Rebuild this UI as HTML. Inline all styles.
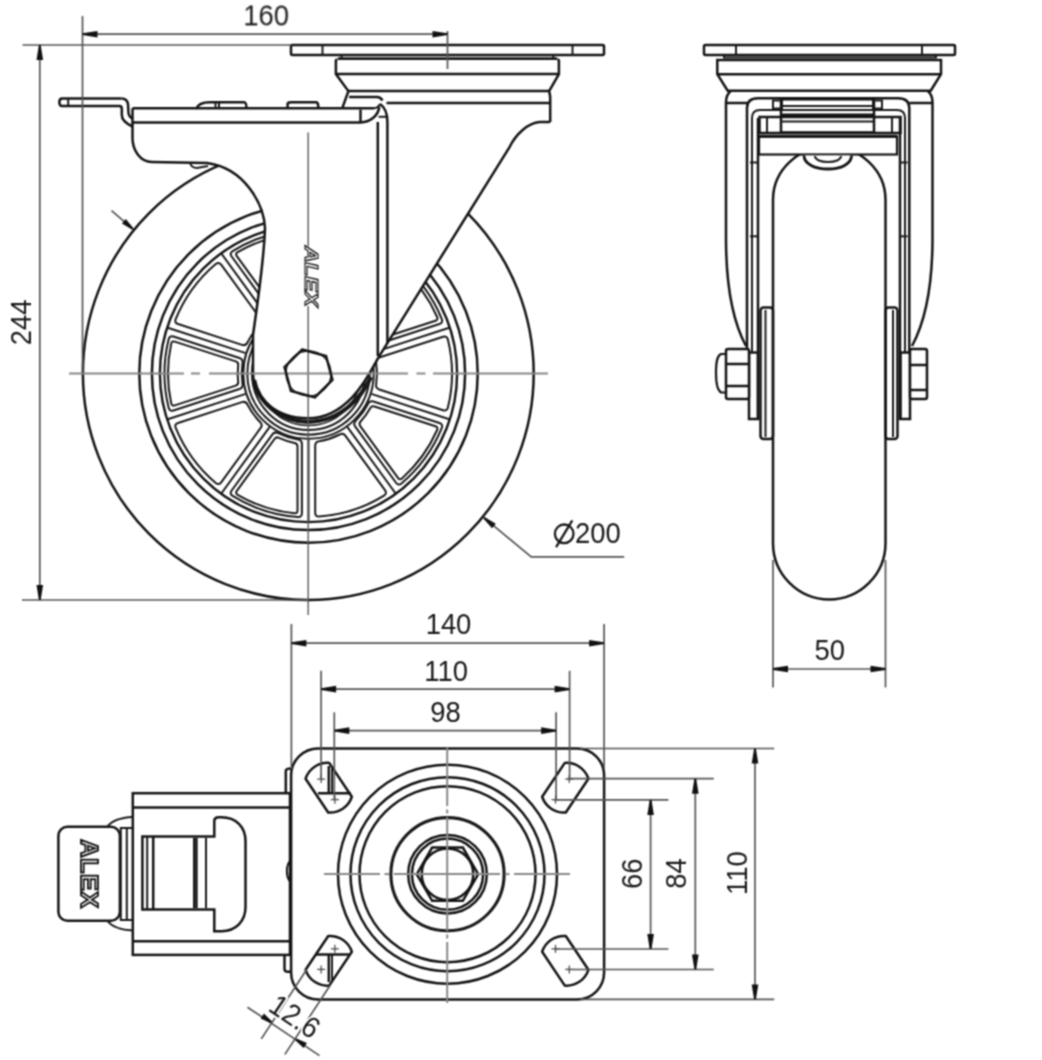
<!DOCTYPE html>
<html><head><meta charset="utf-8"><style>
html,body{margin:0;padding:0;background:#fff;}
body{width:1042px;height:1060px;overflow:hidden;position:relative;}
#lb{position:absolute;left:0;top:0;width:2px;height:1060px;background:#e8e8e8;}
svg{position:absolute;left:0;top:0;will-change:transform;}
text{font-family:"Liberation Sans",sans-serif;fill:#1a1a1a;}
</style></head><body><div id="lb"></div>
<svg width="1042" height="1060" viewBox="0 0 1042 1060" stroke-linecap="butt">
<defs><filter id="bl" x="0" y="0" width="1042" height="1060" filterUnits="userSpaceOnUse" color-interpolation-filters="sRGB"><feConvolveMatrix order="3" kernelMatrix="1 2 1 2 4 2 1 2 1" divisor="16" edgeMode="duplicate" preserveAlpha="true"/></filter></defs>
<g filter="url(#bl)">
<rect x="0" y="0" width="1042" height="1060" fill="#fff"/>
<ellipse cx="308.3" cy="373.5" rx="225.4" ry="226.5" stroke="#141414" stroke-width="2.5" fill="none"/>
<circle cx="308.5" cy="373.5" r="169.2" stroke="#141414" stroke-width="2.5" fill="none" />
<circle cx="308.5" cy="373.5" r="156.6" stroke="#141414" stroke-width="2.5" fill="none" />
<circle cx="308.5" cy="373.5" r="148.6" stroke="#141414" stroke-width="2.4" fill="none" />
<path d="M379.21,357.57 L443.09,336.81 Q446.9,335.58 447.9,339.45 A143.5,143.5 0 0 1 447.9,407.55 Q446.9,411.42 443.09,410.19 L379.21,389.43 Q375.41,388.19 376.15,384.26 A68.5,68.5 0 0 0 376.15,362.74 Q375.41,358.81 379.21,357.57 Z" stroke="#1a1a1a" stroke-width="2.0" fill="none" />
<line x1="371.27" y1="393.9" x2="449.26" y2="419.23" stroke="#1a1a1a" stroke-width="2.0" fill="none" />
<path d="M374.47,406.5 L435.46,426.32 Q438.31,427.25 437.14,430 A140.5,140.5 0 0 1 401.99,478.38 Q399.73,480.35 397.97,477.93 L360.27,426.04 Q358.51,423.62 360.59,421.45 A70.8,70.8 0 0 0 370.2,408.22 Q371.62,405.57 374.47,406.5 Z" stroke="#1a1a1a" stroke-width="2.0" fill="none" />
<path d="M373.48,401.55 L439.46,422.99 Q443.27,424.23 441.81,427.95 A144,144 0 0 1 401.48,483.46 Q398.39,486 396.04,482.76 L355.26,426.63 Q352.91,423.4 355.82,420.65 A66.8,66.8 0 0 0 367.97,403.93 Q369.68,400.32 373.48,401.55 Z" stroke="#1a1a1a" stroke-width="2.0" fill="none" />
<line x1="347.29" y1="426.9" x2="395.49" y2="493.23" stroke="#1a1a1a" stroke-width="2.0" fill="none" />
<path d="M345.5,435.83 L384.98,490.17 Q387.33,493.41 383.96,495.56 A143.5,143.5 0 0 1 319.19,516.6 Q315.2,516.84 315.2,512.84 L315.2,445.67 Q315.2,441.67 319.17,441.16 A68.5,68.5 0 0 0 339.64,434.51 Q343.15,432.59 345.5,435.83 Z" stroke="#1a1a1a" stroke-width="2.0" fill="none" />
<line x1="308.5" y1="439.5" x2="308.5" y2="521.5" stroke="#1a1a1a" stroke-width="2.0" fill="none" />
<path d="M297.5,446.44 L297.5,510.57 Q297.5,513.57 294.51,513.3 A140.5,140.5 0 0 1 237.64,494.82 Q235.07,493.28 236.83,490.86 L274.53,438.98 Q276.29,436.55 278.99,437.86 A70.8,70.8 0 0 0 294.55,442.91 Q297.5,443.44 297.5,446.44 Z" stroke="#1a1a1a" stroke-width="2.0" fill="none" />
<path d="M301.9,443.97 L301.9,513.35 Q301.9,517.35 297.91,517.11 A144,144 0 0 1 232.66,495.91 Q229.29,493.76 231.64,490.52 L272.42,434.39 Q274.77,431.16 278.28,433.07 A66.8,66.8 0 0 0 297.93,439.46 Q301.9,439.97 301.9,443.97 Z" stroke="#1a1a1a" stroke-width="2.0" fill="none" />
<line x1="269.71" y1="426.9" x2="221.51" y2="493.23" stroke="#1a1a1a" stroke-width="2.0" fill="none" />
<path d="M260.66,427.95 L221.18,482.29 Q218.82,485.53 215.74,482.99 A143.5,143.5 0 0 1 175.71,427.89 Q174.24,424.17 178.05,422.93 L241.93,402.17 Q245.74,400.94 247.44,404.55 A68.5,68.5 0 0 0 260.1,421.97 Q263.01,424.71 260.66,427.95 Z" stroke="#1a1a1a" stroke-width="2.0" fill="none" />
<line x1="245.73" y1="393.9" x2="167.74" y2="419.23" stroke="#1a1a1a" stroke-width="2.0" fill="none" />
<path d="M235.73,385.58 L174.74,405.39 Q171.89,406.32 171.22,403.4 A140.5,140.5 0 0 1 171.22,343.6 Q171.89,340.68 174.74,341.61 L235.73,361.42 Q238.58,362.35 238.17,365.32 A70.8,70.8 0 0 0 238.17,381.68 Q238.58,384.65 235.73,385.58 Z" stroke="#1a1a1a" stroke-width="2.0" fill="none" />
<path d="M239.44,389 L173.46,410.44 Q169.65,411.67 168.65,407.8 A144,144 0 0 1 168.65,339.2 Q169.65,335.33 173.46,336.56 L239.44,358 Q243.24,359.24 242.5,363.17 A66.8,66.8 0 0 0 242.5,383.83 Q243.24,387.76 239.44,389 Z" stroke="#1a1a1a" stroke-width="2.0" fill="none" />
<line x1="245.73" y1="353.1" x2="167.74" y2="327.77" stroke="#1a1a1a" stroke-width="2.0" fill="none" />
<path d="M241.93,344.83 L178.05,324.07 Q174.24,322.83 175.71,319.11 A143.5,143.5 0 0 1 215.74,264.01 Q218.82,261.47 221.18,264.71 L260.66,319.05 Q263.01,322.29 260.1,325.03 A68.5,68.5 0 0 0 247.44,342.45 Q245.74,346.06 241.93,344.83 Z" stroke="#1a1a1a" stroke-width="2.0" fill="none" />
<line x1="269.71" y1="320.1" x2="221.51" y2="253.77" stroke="#1a1a1a" stroke-width="2.0" fill="none" />
<path d="M274.53,308.02 L236.83,256.14 Q235.07,253.72 237.64,252.18 A140.5,140.5 0 0 1 294.51,233.7 Q297.5,233.43 297.5,236.43 L297.5,300.56 Q297.5,303.56 294.55,304.09 A70.8,70.8 0 0 0 278.99,309.14 Q276.29,310.45 274.53,308.02 Z" stroke="#1a1a1a" stroke-width="2.0" fill="none" />
<path d="M272.42,312.61 L231.64,256.48 Q229.29,253.24 232.66,251.09 A144,144 0 0 1 297.91,229.89 Q301.9,229.65 301.9,233.65 L301.9,303.03 Q301.9,307.03 297.93,307.54 A66.8,66.8 0 0 0 278.28,313.93 Q274.77,315.84 272.42,312.61 Z" stroke="#1a1a1a" stroke-width="2.0" fill="none" />
<line x1="308.5" y1="307.5" x2="308.5" y2="225.5" stroke="#1a1a1a" stroke-width="2.0" fill="none" />
<path d="M315.2,301.33 L315.2,234.16 Q315.2,230.16 319.19,230.4 A143.5,143.5 0 0 1 383.96,251.44 Q387.33,253.59 384.98,256.83 L345.5,311.17 Q343.15,314.41 339.64,312.49 A68.5,68.5 0 0 0 319.17,305.84 Q315.2,305.33 315.2,301.33 Z" stroke="#1a1a1a" stroke-width="2.0" fill="none" />
<line x1="347.29" y1="320.1" x2="395.49" y2="253.77" stroke="#1a1a1a" stroke-width="2.0" fill="none" />
<path d="M360.27,320.96 L397.97,269.07 Q399.73,266.65 401.99,268.62 A140.5,140.5 0 0 1 437.14,317 Q438.31,319.75 435.46,320.68 L374.47,340.5 Q371.62,341.43 370.2,338.78 A70.8,70.8 0 0 0 360.59,325.55 Q358.51,323.38 360.27,320.96 Z" stroke="#1a1a1a" stroke-width="2.0" fill="none" />
<path d="M355.26,320.37 L396.04,264.24 Q398.39,261 401.48,263.54 A144,144 0 0 1 441.81,319.05 Q443.27,322.77 439.46,324.01 L373.48,345.45 Q369.68,346.68 367.97,343.07 A66.8,66.8 0 0 0 355.82,326.35 Q352.91,323.6 355.26,320.37 Z" stroke="#1a1a1a" stroke-width="2.0" fill="none" />
<line x1="371.27" y1="353.1" x2="449.26" y2="327.77" stroke="#1a1a1a" stroke-width="2.0" fill="none" />
<circle cx="308.5" cy="373.5" r="65.2" stroke="#1a1a1a" stroke-width="2.0" fill="none" />
<circle cx="308.5" cy="373.5" r="61.2" stroke="#1a1a1a" stroke-width="2.0" fill="none" />
<circle cx="308.5" cy="373.5" r="56.5" stroke="#1a1a1a" stroke-width="2.0" fill="none" />
<circle cx="308.5" cy="373.5" r="52" stroke="#141414" stroke-width="1.4" fill="none" />
<path d="M132.5,108.3 L378,108.3 L386,104 L550.2,103 L550.2,122.1 L539.6,122.1 C528,122 516,134 509.7,146.8 L378.5,357.3 C370,372 350,418 308,418.3 C276,418.3 253,398 253,373 L253,335 C258,300 264,260 265,228 C264,205 245,168 207,163 L152,162 C140,160 132.5,150 132.5,138 Z" stroke="none" fill="#fff" />
<path d="M254,380 C258,402 280,421.6 308,421.8 C342,421.8 362,396 371,377" stroke="#1a1a1a" stroke-width="4.2" fill="none" />
<path d="M253,335 L253,373 C253,398 276,418.3 308,418.3 C350,418 370,372 378.5,357.3" stroke="#141414" stroke-width="2.5" fill="none" />
<path d="M132.5,122 L132.5,138 C132.5,150 140,162 152,162 L207,163 C245,168 264,205 265,228 C264,260 258,300 253,335" stroke="#141414" stroke-width="2.5" fill="none" />
<path d="M550.2,122.1 L539.6,122.1 C528,123 516,134 509.7,146.8 L378.5,357.3" stroke="#141414" stroke-width="2.5" fill="none" />
<line x1="377.8" y1="122" x2="377.8" y2="356" stroke="#141414" stroke-width="2.5" fill="none" />
<path d="M380,104 C386,108 387.4,114 387.4,122 L387.4,343" stroke="#141414" stroke-width="2.5" fill="none" />
<path d="M132.5,108.3 L374,108.3" stroke="#141414" stroke-width="2.5" fill="none" />
<line x1="200" y1="107.6" x2="374" y2="107.6" stroke="#1a1a1a" stroke-width="1.4" />
<path d="M132.5,122.4 L360.5,122.4 C370,122.4 378,116 379.3,107" stroke="#141414" stroke-width="2.5" fill="none" />
<line x1="132.5" y1="108.3" x2="132.5" y2="122.4" stroke="#141414" stroke-width="2.5" fill="none" />
<line x1="360.5" y1="109.6" x2="360.5" y2="122.4" stroke="#141414" stroke-width="2.5" fill="none" />
<path d="M374,108.3 C377,108 379,106 380,104" stroke="#1a1a1a" stroke-width="2.0" fill="none" />
<line x1="378.6" y1="116.8" x2="386.9" y2="116.8" stroke="#1a1a1a" stroke-width="2.0" fill="none" />
<path d="M196,109 C198,104 203,102.3 210,102.3 L244,102.3 C246,102.3 246.5,104 246.5,109" stroke="#141414" stroke-width="2.5" fill="none" />
<line x1="215.5" y1="102.5" x2="215.5" y2="109" stroke="#1a1a1a" stroke-width="2.0" fill="none" />
<line x1="219" y1="102.5" x2="219" y2="109" stroke="#1a1a1a" stroke-width="2.0" fill="none" />
<path d="M287.6,109 L287.6,104 C287.6,102.5 289,102.3 291,102.3 L316,102.3 C318,102.3 318.3,104 318.3,109" stroke="#141414" stroke-width="2.5" fill="none" />
<path d="M121.5,98.4 L62,98.4 C58.5,98.4 58.5,106.1 62,106.1 L119.5,106.1 C121,106.1 121.8,107 121.8,109 L121.8,115 C121.8,119 126,123.5 132.5,126.5" stroke="#141414" stroke-width="2.5" fill="none" />
<path d="M121.5,98.4 C125.5,98.4 127.5,100.5 128,104 L128.5,113 C128.8,116 130,117.5 132.5,118.5" stroke="#141414" stroke-width="2.5" fill="none" />
<line x1="68.2" y1="98.8" x2="68.2" y2="105.8" stroke="#1a1a1a" stroke-width="2.0" fill="none" />
<path d="M190,163 C191,166 193,168 197,168 L208,166" stroke="#1a1a1a" stroke-width="2.0" fill="none" />
<rect x="291" y="45" width="313" height="10" rx="1.5" stroke="#141414" stroke-width="2.5" fill="none"/>
<line x1="322.5" y1="45" x2="322.5" y2="55" stroke="#1a1a1a" stroke-width="2.0" fill="none" />
<line x1="572.5" y1="45" x2="572.5" y2="55" stroke="#1a1a1a" stroke-width="2.0" fill="none" />
<line x1="341.6" y1="55" x2="341.6" y2="58.5" stroke="#1a1a1a" stroke-width="2.0" fill="none" />
<line x1="553.2" y1="55" x2="553.2" y2="58.5" stroke="#1a1a1a" stroke-width="2.0" fill="none" />
<line x1="338" y1="58.6" x2="557" y2="58.6" stroke="#1a1a1a" stroke-width="2.6" />
<path d="M337.5,59.4 Q335.9,59.4 335.9,61 L335.9,74.1 L348.4,91.1 L342.3,108.1" stroke="#141414" stroke-width="2.5" fill="none" />
<path d="M557.3,59.4 Q558.9,59.4 558.9,61 L558.9,74.1 L549.1,91.2 C549.6,93 550.2,95 550.2,98.3 L550.2,122.1" stroke="#141414" stroke-width="2.5" fill="none" />
<line x1="335.9" y1="74.1" x2="558.9" y2="74.1" stroke="#141414" stroke-width="2.5" fill="none" />
<line x1="348.4" y1="91.1" x2="549.1" y2="91.1" stroke="#141414" stroke-width="2.5" fill="none" />
<line x1="386.5" y1="102.9" x2="550.2" y2="102.9" stroke="#141414" stroke-width="2.5" fill="none" />
<path d="M349.1,97.1 L377,97.1 C379,97.1 381,98 382.5,100.5" stroke="#141414" stroke-width="2.5" fill="none" />
<line x1="308.2" y1="132.4" x2="308.2" y2="246.5" stroke="#5a5a5a" stroke-width="1.4" fill="none" />
<line x1="308.2" y1="306" x2="308.2" y2="615" stroke="#5a5a5a" stroke-width="1.4" fill="none" />
<line x1="69" y1="373.5" x2="184" y2="373.5" stroke="#888" stroke-width="2" fill="none" />
<line x1="191" y1="373.5" x2="200" y2="373.5" stroke="#888" stroke-width="2" fill="none" />
<line x1="209" y1="373.5" x2="408" y2="373.5" stroke="#888" stroke-width="2" fill="none" />
<line x1="416.5" y1="373.5" x2="425.5" y2="373.5" stroke="#888" stroke-width="2" fill="none" />
<line x1="433" y1="373.5" x2="548" y2="373.5" stroke="#888" stroke-width="2" fill="none" />
<path d="M302.08,349.55 L326.04,355.96 L332.45,379.92 L314.92,397.45 L290.96,391.04 L284.55,367.08 Z" stroke="#141414" stroke-width="2.5" fill="none" />
<circle cx="308.5" cy="373.5" r="22.5" stroke="#141414" stroke-width="1.3" fill="none" />
<text x="0" y="0" font-size="19" font-weight="bold" transform="translate(304.5,276.3) rotate(90) scale(1.2,1)" text-anchor="middle" font-style="italic" style="fill:#fff;stroke:#1a1a1a;stroke-width:1.2px">ALEX</text>
<line x1="82.5" y1="16" x2="82.5" y2="372" stroke="#555" stroke-width="1.7" fill="none" />
<line x1="447.5" y1="31" x2="447.5" y2="69" stroke="#555" stroke-width="1.7" fill="none" />
<line x1="82.5" y1="34.2" x2="447.5" y2="34.2" stroke="#555" stroke-width="1.7" fill="none" />
<path d="M82.5,33.3 L97.5,30.9 L97.5,37.5 L82.5,35.1 Z" fill="#111" stroke="none"/>
<path d="M447.5,35.1 L432.5,37.5 L432.5,30.9 L447.5,33.3 Z" fill="#111" stroke="none"/>
<text x="0" y="0" font-size="29.5" text-anchor="middle" transform="translate(266.1 25.4) rotate(0) scale(0.93 1)" >160</text>
<line x1="22.5" y1="45" x2="291" y2="45" stroke="#555" stroke-width="1.7" fill="none" />
<line x1="22" y1="600" x2="308" y2="600" stroke="#555" stroke-width="1.7" fill="none" />
<line x1="39.8" y1="45" x2="39.8" y2="600" stroke="#555" stroke-width="1.7" fill="none" />
<path d="M40.7,45 L43.1,60 L36.5,60 L38.9,45 Z" fill="#111" stroke="none"/>
<path d="M38.9,600 L36.5,585 L43.1,585 L40.7,600 Z" fill="#111" stroke="none"/>
<text x="0" y="0" font-size="29.5" text-anchor="middle" transform="translate(31.2 322.3) rotate(-90) scale(0.93 1)" >244</text>
<line x1="111.5" y1="210.7" x2="133" y2="229.1" stroke="#555" stroke-width="1.7" fill="none" />
<path d="M132.41,229.78 L121.93,223.58 L125.83,219.02 L133.59,228.42 Z" fill="#111" stroke="none"/>
<path d="M483.9,517.7 L531.2,556.9 L624.2,556.9" stroke="#555" stroke-width="1.7" fill="none" />
<path d="M484.47,517.01 L495.82,523.69 L492,528.31 L483.33,518.39 Z" fill="#111" stroke="none"/>
<text x="0" y="0" font-size="29.5" text-anchor="middle" transform="translate(597.9 543.3) rotate(0) scale(0.93 1)" >200</text>
<circle cx="564.2" cy="533.8" r="9.3" stroke="#1a1a1a" stroke-width="2.3" fill="none" />
<line x1="556.1" y1="547.2" x2="572.3" y2="520.4" stroke="#1a1a1a" stroke-width="2.3" />
<rect x="704" y="45" width="251" height="10" rx="1.5" stroke="#141414" stroke-width="2.5" fill="none"/>
<line x1="736" y1="45" x2="736" y2="55" stroke="#1a1a1a" stroke-width="2.0" fill="none" />
<line x1="922" y1="45" x2="922" y2="55" stroke="#1a1a1a" stroke-width="2.0" fill="none" />
<path d="M724,55 L724,57.5 L936,57.5 L936,55" stroke="#1a1a1a" stroke-width="2.0" fill="none" />
<path d="M717.3,60 L941,60 L941,74.2 L930.7,90.7 L727.7,90.7 L717.3,74.2 Z" stroke="#141414" stroke-width="2.5" fill="none" />
<line x1="717.3" y1="74.2" x2="941" y2="74.2" stroke="#141414" stroke-width="2.5" fill="none" />
<path d="M730.7,91 C727,94 726,98 726,102.2 L726,240 C726.2,290 733,322 746,346" stroke="#141414" stroke-width="2.5" fill="none" />
<path d="M927.8,91 C931.5,94 932.5,98 932.5,102.2 L932.5,240 C932.3,290 925,322 912,346" stroke="#141414" stroke-width="2.5" fill="none" />
<line x1="726" y1="103" x2="747" y2="103" stroke="#141414" stroke-width="2.5" fill="none" />
<line x1="909.3" y1="103" x2="932.5" y2="103" stroke="#141414" stroke-width="2.5" fill="none" />
<path d="M747,352 L747,108 C747,101 751,98.2 758,98.2 L898,98.2 C905,98.2 909.3,101 909.3,108 L909.3,352" stroke="#141414" stroke-width="2.5" fill="none" />
<rect x="749" y="352.5" width="9" height="66.5" rx="0" stroke="#141414" stroke-width="2.5" fill="none"/>
<rect x="900.5" y="352.5" width="9.5" height="66.5" rx="0" stroke="#141414" stroke-width="2.5" fill="none"/>
<line x1="758" y1="118" x2="758" y2="420" stroke="#141414" stroke-width="2.5" fill="none" />
<line x1="900" y1="118" x2="900" y2="420" stroke="#141414" stroke-width="2.5" fill="none" />
<path d="M752,118 C752,112 755,110 760,110 L897,110 C902,110 905,112 905,118 L905,352" stroke="#1a1a1a" stroke-width="2.0" fill="none" />
<line x1="752" y1="118" x2="752" y2="352" stroke="#1a1a1a" stroke-width="2.0" fill="none" />
<rect x="781" y="99.3" width="93" height="33.2" rx="0" stroke="#141414" stroke-width="2.5" fill="none"/>
<line x1="781" y1="106" x2="874" y2="106" stroke="#1a1a1a" stroke-width="2.0" fill="none" />
<line x1="781" y1="114.8" x2="874" y2="114.8" stroke="#141414" stroke-width="2.5" fill="none" />
<line x1="781" y1="121.4" x2="874" y2="121.4" stroke="#1a1a1a" stroke-width="2.0" fill="none" />
<rect x="773" y="100.5" width="9" height="8" rx="0" stroke="#1a1a1a" stroke-width="2.0" fill="none"/>
<rect x="873" y="100.5" width="9" height="8" rx="0" stroke="#1a1a1a" stroke-width="2.0" fill="none"/>
<rect x="759.5" y="117" width="141" height="16" rx="0" stroke="#141414" stroke-width="2.5" fill="none"/>
<line x1="767" y1="117" x2="767" y2="133" stroke="#1a1a1a" stroke-width="2.0" fill="none" />
<line x1="892" y1="117" x2="892" y2="133" stroke="#1a1a1a" stroke-width="2.0" fill="none" />
<path d="M773,543 L773,199.8 A56.25,53.2 0 0 1 885.5,199.8 L885.5,543 A56.25,56.5 0 0 1 773,543 Z" stroke="#141414" stroke-width="2.5" fill="none" />
<rect x="759" y="136.5" width="138" height="18" rx="0" stroke="#141414" stroke-width="2.2" fill="#fff"/>
<line x1="759" y1="136.2" x2="897" y2="136.2" stroke="#141414" stroke-width="3" />
<path d="M804,155.5 C804,164 815,169 828,169 C841,169 851.5,164 851.5,155.5" stroke="#141414" stroke-width="2.8" fill="#fff" />
<path d="M815,156 C815,160 821,162 828,162 C835,162 841,160 841,156" stroke="#1a1a1a" stroke-width="2.0" fill="none" />
<line x1="750" y1="162.5" x2="758" y2="162.5" stroke="#1a1a1a" stroke-width="2.0" fill="none" />
<line x1="900" y1="162.5" x2="907.5" y2="162.5" stroke="#1a1a1a" stroke-width="2.0" fill="none" />
<line x1="750" y1="236.3" x2="758" y2="236.3" stroke="#1a1a1a" stroke-width="2.0" fill="none" />
<line x1="900" y1="236.3" x2="907.5" y2="236.3" stroke="#1a1a1a" stroke-width="2.0" fill="none" />
<rect x="760.5" y="307.5" width="12.5" height="131.5" rx="3" stroke="#141414" stroke-width="2.5" fill="none"/>
<line x1="765.5" y1="310" x2="765.5" y2="437" stroke="#1a1a1a" stroke-width="2.0" fill="none" />
<rect x="885.5" y="307.5" width="12" height="131.5" rx="3" stroke="#141414" stroke-width="2.5" fill="none"/>
<line x1="893" y1="310" x2="893" y2="437" stroke="#1a1a1a" stroke-width="2.0" fill="none" />
<rect x="726" y="349" width="23" height="50" rx="2" stroke="#141414" stroke-width="2.5" fill="#fff"/>
<line x1="726" y1="364" x2="749" y2="364" stroke="#141414" stroke-width="2.5" fill="none" />
<line x1="726" y1="386" x2="749" y2="386" stroke="#141414" stroke-width="2.5" fill="none" />
<path d="M726,354 L721,354 C717,356 716,362 716,373 C716,384 717,390 721,392.5 L726,392.5" stroke="#141414" stroke-width="2.2" fill="none" />
<rect x="910" y="349" width="17" height="50" rx="2" stroke="#141414" stroke-width="2.5" fill="#fff"/>
<line x1="910" y1="365" x2="927" y2="365" stroke="#141414" stroke-width="2.5" fill="none" />
<line x1="910" y1="390" x2="927" y2="390" stroke="#141414" stroke-width="2.5" fill="none" />
<line x1="773" y1="560" x2="773" y2="687.5" stroke="#555" stroke-width="1.7" fill="none" />
<line x1="885.5" y1="560" x2="885.5" y2="687.5" stroke="#555" stroke-width="1.7" fill="none" />
<line x1="773" y1="669" x2="885.5" y2="669" stroke="#555" stroke-width="1.7" fill="none" />
<path d="M773,668.1 L788,665.7 L788,672.3 L773,669.9 Z" fill="#111" stroke="none"/>
<path d="M885.5,669.9 L870.5,672.3 L870.5,665.7 L885.5,668.1 Z" fill="#111" stroke="none"/>
<text x="0" y="0" font-size="29.5" text-anchor="middle" transform="translate(829.75 659.8) rotate(0) scale(0.93 1)" >50</text>
<rect x="132.8" y="793.2" width="157.2" height="161.7" rx="0" stroke="#141414" stroke-width="2.5" fill="none"/>
<line x1="132.8" y1="807.6" x2="290" y2="807.6" stroke="#141414" stroke-width="2.5" fill="none" />
<line x1="132.8" y1="941.2" x2="290" y2="941.2" stroke="#141414" stroke-width="2.5" fill="none" />
<path d="M285.8,793 L285.8,771 C285.8,769.5 287,768.6 291,768.6" stroke="#141414" stroke-width="2.5" fill="none" />
<rect x="58.4" y="826.8" width="61.5" height="94" rx="9" stroke="#141414" stroke-width="2.5" fill="none"/>
<line x1="120.8" y1="828" x2="120.8" y2="920" stroke="#1a1a1a" stroke-width="2.0" fill="none" />
<line x1="126.8" y1="828" x2="126.8" y2="920" stroke="#1a1a1a" stroke-width="2.0" fill="none" />
<line x1="119.9" y1="828" x2="132.8" y2="828" stroke="#1a1a1a" stroke-width="2.0" fill="none" />
<line x1="119.9" y1="920" x2="132.8" y2="920" stroke="#1a1a1a" stroke-width="2.0" fill="none" />
<path d="M107,827 C112,820 122,817.5 132.8,817" stroke="#1a1a1a" stroke-width="2.0" fill="none" />
<path d="M107,920.5 C112,927 122,930 132.8,930.5" stroke="#1a1a1a" stroke-width="2.0" fill="none" />
<text x="0" y="0" font-size="24" font-weight="bold" transform="translate(80.5,874) rotate(90) scale(1.05,1)" text-anchor="middle" style="fill:#fff;stroke:#1a1a1a;stroke-width:1.9px" letter-spacing="0.5">ALEX</text>
<path d="M142.4,836.4 L214.3,836.4 L214.3,821 C214.3,818.5 216,817.2 219,817.2 L221.5,817.2 C236,817.2 245.5,827 245.5,841 L245.5,907 C245.5,921 236,931.2 221.5,931.2 L214.3,931.2 L214.3,909.6 L142.4,909.6 Z" stroke="#141414" stroke-width="2.5" fill="none" />
<line x1="147.2" y1="836.4" x2="147.2" y2="909.6" stroke="#1a1a1a" stroke-width="2.0" fill="none" />
<line x1="153.2" y1="836.4" x2="153.2" y2="909.6" stroke="#141414" stroke-width="2.5" fill="none" />
<line x1="194" y1="838" x2="194" y2="908" stroke="#1a1a1a" stroke-width="2.0" fill="none" />
<line x1="196.4" y1="838" x2="196.4" y2="908" stroke="#141414" stroke-width="2.5" fill="none" />
<line x1="206" y1="838" x2="206" y2="908" stroke="#1a1a1a" stroke-width="2.0" fill="none" />
<path d="M284.5,955 L284.5,969 C284.5,971 286,971.8 288,971.8 L291,971.8" stroke="#141414" stroke-width="2.5" fill="none" />
<path d="M289.5,861.5 C286,866 286,876 289.5,881" stroke="#141414" stroke-width="2" fill="none" />
<rect x="291.1" y="748.5" width="313" height="251" rx="27" stroke="#141414" stroke-width="2.5" fill="#fff"/>
<circle cx="447.5" cy="874.2" r="109.5" stroke="#141414" stroke-width="2.5" fill="none" />
<circle cx="447.5" cy="874.2" r="97" stroke="#141414" stroke-width="2.5" fill="none" />
<circle cx="447.5" cy="874.2" r="88" stroke="#141414" stroke-width="2.5" fill="none" />
<circle cx="447.5" cy="874.2" r="56.6" stroke="#1a1a1a" stroke-width="3.1" fill="none" />
<circle cx="447.5" cy="874.2" r="39.3" stroke="#141414" stroke-width="2.5" fill="none" />
<circle cx="447.5" cy="874.2" r="35.6" stroke="#141414" stroke-width="2.5" fill="none" />
<path d="M478.2,874.2 L462.85,900.79 L432.15,900.79 L416.8,874.2 L432.15,847.61 L462.85,847.61 Z" stroke="#141414" stroke-width="2.5" fill="none" />
<circle cx="447.5" cy="874.2" r="25.8" stroke="#141414" stroke-width="2.5" fill="none" />
<path d="M329.19,762.89 A23,23 0 0 0 305.59,778.69 L328.23,812.53 A23,23 0 0 0 351.84,796.74 Z" stroke="#141414" stroke-width="2.5" fill="#fff" stroke-linejoin="round"/>
<path d="M588.41,778.69 A23,23 0 0 0 564.81,762.89 L542.16,796.74 A23,23 0 0 0 565.77,812.53 Z" stroke="#141414" stroke-width="2.5" fill="#fff" stroke-linejoin="round"/>
<path d="M305.59,969.81 A23,23 0 0 0 329.19,985.61 L351.84,951.76 A23,23 0 0 0 328.23,935.97 Z" stroke="#141414" stroke-width="2.5" fill="#fff" stroke-linejoin="round"/>
<path d="M564.81,985.61 A23,23 0 0 0 588.41,969.81 L565.77,935.97 A23,23 0 0 0 542.16,951.76 Z" stroke="#141414" stroke-width="2.5" fill="#fff" stroke-linejoin="round"/>
<line x1="317.15" y1="779.1" x2="325.15" y2="779.1" stroke="#333" stroke-width="1.1" />
<line x1="321.15" y1="775.1" x2="321.15" y2="783.1" stroke="#333" stroke-width="1.1" />
<line x1="565.25" y1="779.1" x2="573.25" y2="779.1" stroke="#333" stroke-width="1.1" />
<line x1="569.25" y1="775.1" x2="569.25" y2="783.1" stroke="#333" stroke-width="1.1" />
<line x1="317.15" y1="969.4" x2="325.15" y2="969.4" stroke="#333" stroke-width="1.1" />
<line x1="321.15" y1="965.4" x2="321.15" y2="973.4" stroke="#333" stroke-width="1.1" />
<line x1="565.25" y1="969.4" x2="573.25" y2="969.4" stroke="#333" stroke-width="1.1" />
<line x1="569.25" y1="965.4" x2="569.25" y2="973.4" stroke="#333" stroke-width="1.1" />
<line x1="330.9" y1="799.65" x2="338.9" y2="799.65" stroke="#333" stroke-width="1.1" />
<line x1="334.9" y1="795.65" x2="334.9" y2="803.65" stroke="#333" stroke-width="1.1" />
<line x1="551.5" y1="799.65" x2="559.5" y2="799.65" stroke="#333" stroke-width="1.1" />
<line x1="555.5" y1="795.65" x2="555.5" y2="803.65" stroke="#333" stroke-width="1.1" />
<line x1="330.9" y1="948.85" x2="338.9" y2="948.85" stroke="#333" stroke-width="1.1" />
<line x1="334.9" y1="944.85" x2="334.9" y2="952.85" stroke="#333" stroke-width="1.1" />
<line x1="551.5" y1="948.85" x2="559.5" y2="948.85" stroke="#333" stroke-width="1.1" />
<line x1="555.5" y1="944.85" x2="555.5" y2="952.85" stroke="#333" stroke-width="1.1" />
<line x1="318" y1="793.3" x2="351" y2="793.3" stroke="#141414" stroke-width="2.5" fill="none" />
<line x1="328.8" y1="766" x2="328.8" y2="793" stroke="#141414" stroke-width="2.5" fill="none" />
<line x1="332" y1="766" x2="332" y2="793" stroke="#1a1a1a" stroke-width="2.0" fill="none" />
<line x1="316" y1="954.5" x2="349" y2="954.5" stroke="#141414" stroke-width="2.5" fill="none" />
<line x1="328.8" y1="955" x2="328.8" y2="982" stroke="#141414" stroke-width="2.5" fill="none" />
<line x1="332" y1="955" x2="332" y2="982" stroke="#1a1a1a" stroke-width="2.0" fill="none" />
<line x1="447.2" y1="747.5" x2="447.2" y2="806" stroke="#888" stroke-width="2" fill="none" />
<line x1="447.2" y1="809.5" x2="447.2" y2="813.5" stroke="#888" stroke-width="2" fill="none" />
<line x1="447.2" y1="817" x2="447.2" y2="931" stroke="#888" stroke-width="2" fill="none" />
<line x1="447.2" y1="934.5" x2="447.2" y2="938.5" stroke="#888" stroke-width="2" fill="none" />
<line x1="447.2" y1="942" x2="447.2" y2="1003" stroke="#888" stroke-width="2" fill="none" />
<line x1="324" y1="874.1" x2="380" y2="874.1" stroke="#888" stroke-width="2" fill="none" />
<line x1="384.5" y1="874.1" x2="389" y2="874.1" stroke="#888" stroke-width="2" fill="none" />
<line x1="394" y1="874.1" x2="500" y2="874.1" stroke="#888" stroke-width="2" fill="none" />
<line x1="505" y1="874.1" x2="509.5" y2="874.1" stroke="#888" stroke-width="2" fill="none" />
<line x1="514" y1="874.1" x2="570" y2="874.1" stroke="#888" stroke-width="2" fill="none" />
<line x1="291.4" y1="624" x2="291.4" y2="769" stroke="#555" stroke-width="1.7" fill="none" />
<line x1="604.1" y1="624" x2="604.1" y2="769" stroke="#555" stroke-width="1.7" fill="none" />
<line x1="291.4" y1="643.2" x2="604.1" y2="643.2" stroke="#555" stroke-width="1.7" fill="none" />
<path d="M291.4,642.3 L306.4,639.9 L306.4,646.5 L291.4,644.1 Z" fill="#111" stroke="none"/>
<path d="M604.1,644.1 L589.1,646.5 L589.1,639.9 L604.1,642.3 Z" fill="#111" stroke="none"/>
<text x="0" y="0" font-size="29.5" text-anchor="middle" transform="translate(448.5 633.5) rotate(0) scale(0.93 1)" >140</text>
<line x1="321.1" y1="670.8" x2="321.1" y2="779" stroke="#555" stroke-width="1.7" fill="none" />
<line x1="569.6" y1="670.8" x2="569.6" y2="779" stroke="#555" stroke-width="1.7" fill="none" />
<line x1="321.1" y1="689.1" x2="569.6" y2="689.1" stroke="#555" stroke-width="1.7" fill="none" />
<path d="M321.1,688.2 L336.1,685.8 L336.1,692.4 L321.1,690 Z" fill="#111" stroke="none"/>
<path d="M569.6,690 L554.6,692.4 L554.6,685.8 L569.6,688.2 Z" fill="#111" stroke="none"/>
<text x="0" y="0" font-size="29.5" text-anchor="middle" transform="translate(446.2 680.6) rotate(0) scale(0.93 1)" >110</text>
<line x1="334.3" y1="712.3" x2="334.3" y2="800" stroke="#555" stroke-width="1.7" fill="none" />
<line x1="556.1" y1="712.3" x2="556.1" y2="800" stroke="#555" stroke-width="1.7" fill="none" />
<line x1="334.3" y1="730.6" x2="556.1" y2="730.6" stroke="#555" stroke-width="1.7" fill="none" />
<path d="M334.3,729.7 L349.3,727.3 L349.3,733.9 L334.3,731.5 Z" fill="#111" stroke="none"/>
<path d="M556.1,731.5 L541.1,733.9 L541.1,727.3 L556.1,729.7 Z" fill="#111" stroke="none"/>
<text x="0" y="0" font-size="29.5" text-anchor="middle" transform="translate(445.6 721.6) rotate(0) scale(0.93 1)" >98</text>
<line x1="554.2" y1="799.9" x2="668.4" y2="799.9" stroke="#555" stroke-width="1.7" fill="none" />
<line x1="554.2" y1="949" x2="668.4" y2="949" stroke="#555" stroke-width="1.7" fill="none" />
<line x1="650.6" y1="799.9" x2="650.6" y2="949" stroke="#555" stroke-width="1.7" fill="none" />
<path d="M651.5,799.9 L653.9,814.9 L647.3,814.9 L649.7,799.9 Z" fill="#111" stroke="none"/>
<path d="M649.7,949 L647.3,934 L653.9,934 L651.5,949 Z" fill="#111" stroke="none"/>
<text x="0" y="0" font-size="29.5" text-anchor="middle" transform="translate(642.3 873.8) rotate(-90) scale(0.93 1)" >66</text>
<line x1="567.6" y1="778.7" x2="713.8" y2="778.7" stroke="#555" stroke-width="1.7" fill="none" />
<line x1="567.6" y1="969.5" x2="713.8" y2="969.5" stroke="#555" stroke-width="1.7" fill="none" />
<line x1="695.3" y1="778.7" x2="695.3" y2="969.5" stroke="#555" stroke-width="1.7" fill="none" />
<path d="M696.2,778.7 L698.6,793.7 L692,793.7 L694.4,778.7 Z" fill="#111" stroke="none"/>
<path d="M694.4,969.5 L692,954.5 L698.6,954.5 L696.2,969.5 Z" fill="#111" stroke="none"/>
<text x="0" y="0" font-size="29.5" text-anchor="middle" transform="translate(685.5 873.5) rotate(-90) scale(0.93 1)" >84</text>
<line x1="580" y1="748.5" x2="774.2" y2="748.5" stroke="#555" stroke-width="1.7" fill="none" />
<line x1="580" y1="999.4" x2="774.2" y2="999.4" stroke="#555" stroke-width="1.7" fill="none" />
<line x1="755" y1="748.5" x2="755" y2="999.4" stroke="#555" stroke-width="1.7" fill="none" />
<path d="M755.9,748.5 L758.3,763.5 L751.7,763.5 L754.1,748.5 Z" fill="#111" stroke="none"/>
<path d="M754.1,999.4 L751.7,984.4 L758.3,984.4 L755.9,999.4 Z" fill="#111" stroke="none"/>
<text x="0" y="0" font-size="29.5" text-anchor="middle" transform="translate(746.7 873.1) rotate(-90) scale(0.93 1)" >110</text>
<line x1="247.5" y1="1007.2" x2="319.5" y2="1055.6" stroke="#555" stroke-width="1.7" fill="none" />
<path d="M271.7,1023.55 L260.57,1018.6 L263.91,1013.62 L272.7,1022.05 Z" fill="#111" stroke="none"/>
<path d="M295.8,1038.15 L306.93,1043.1 L303.59,1048.08 L294.8,1039.65 Z" fill="#111" stroke="none"/>
<line x1="261.3" y1="1038.9" x2="307" y2="969" stroke="#555" stroke-width="1.7" fill="none" />
<line x1="284.9" y1="1054.4" x2="330" y2="985.5" stroke="#555" stroke-width="1.7" fill="none" />
<text x="0" y="0" font-size="29.5" text-anchor="middle" transform="translate(289.2 1024.8) rotate(33.9) scale(0.93 1)" stroke="#fff" stroke-width="4" paint-order="stroke">12.6</text>
</g>
</svg></body></html>
